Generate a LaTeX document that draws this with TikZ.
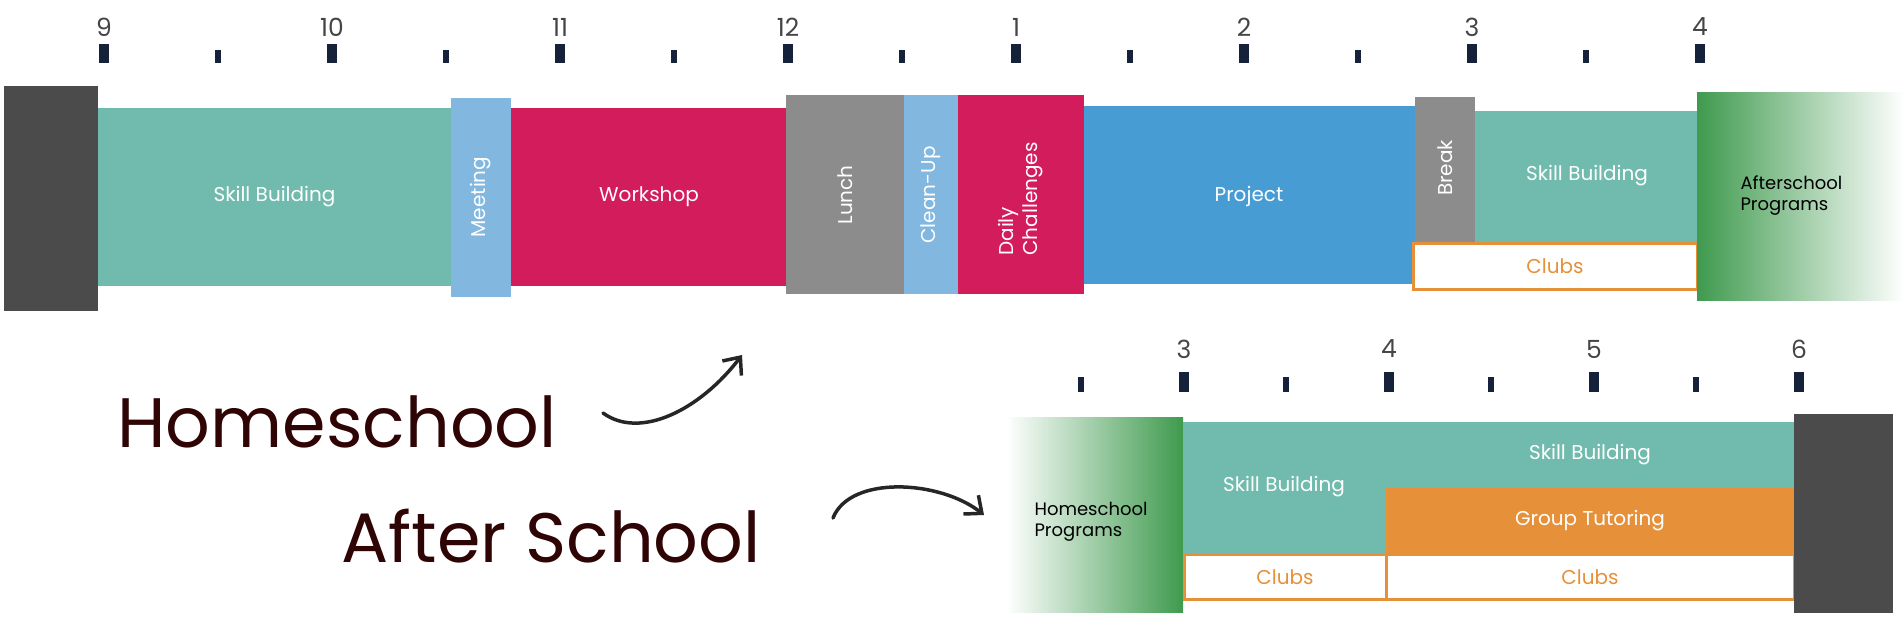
\documentclass[tikz,border=0pt]{standalone}
\usepackage{fontspec}
\setmainfont{Poppins}
\usetikzlibrary{arrows.meta}
\definecolor{dk}{HTML}{4B4B4B}
\definecolor{teal}{HTML}{70BBAD}
\definecolor{lblue}{HTML}{82B8E0}
\definecolor{crim}{HTML}{D31C5B}
\definecolor{gry}{HTML}{8C8C8C}
\definecolor{blu}{HTML}{479CD4}
\definecolor{org}{HTML}{E6913A}
\definecolor{grn}{HTML}{3F9A4E}
\definecolor{tick}{HTML}{15223A}
\definecolor{numc}{HTML}{454545}
\definecolor{maroon}{HTML}{2E0404}
\tikzset{
  lbl/.style={text=white,font=\fontsize{20}{24}\selectfont},
  rlbl/.style={lbl,rotate=90},
  clubs/.style={draw=org,line width=3pt,fill=white},
  clubtxt/.style={text=org,font=\fontsize{20}{24}\selectfont},
  numlbl/.style={text=numc,font=\fontsize{25}{28}\selectfont},
  big/.style={text=maroon,font=\fontsize{70}{80}\selectfont},
  arr/.style={line width=3.5pt,draw=black!85,line cap=round,-{Straight Barb[length=14pt,width=24pt,line width=3.5pt]}}
}
\begin{document}
\begin{tikzpicture}[x=1pt,y=-1pt]
\useasboundingbox (0,0) rectangle (1904,624);
% top ticks
\foreach \i/\t in {0/9,1/10,2/11,3/12,4/1,5/2,6/3,7/4}{
  \pgfmathsetmacro\xx{104+228*\i}
  \fill[tick] (\xx-5,44) rectangle (\xx+5,63);
  \node[numlbl] (tn\i) at (\xx,27) {\t};
}
\foreach \i in {0,...,6}{
  \pgfmathsetmacro\xx{218+228*\i}
  \fill[tick] (\xx-3,50) rectangle (\xx+3,63);
}
% top blocks
\fill[dk] (4,86) rectangle (98,311);
\fill[teal] (98,108) rectangle (451,286);
\node[lbl] (sb1) at (274.5,197) {Skill Building};
\fill[lblue] (451,98) rectangle (511,297);
\node[rlbl] (meet) at (481,197) {Meeting};
\fill[crim] (511,108) rectangle (787,286);
\node[lbl] (work) at (649,197) {Workshop};
\fill[gry] (786,95) rectangle (904,294);
\node[rlbl] (lunch) at (845,195) {Lunch};
\fill[lblue] (904,95) rectangle (958,294);
\node[rlbl] (clean) at (931,195) {Clean-Up};
\fill[crim] (958,95) rectangle (1084,294);
\node[rlbl,align=left] (daily) at (1021,199) {Daily\\Challenges};
\fill[blu] (1084,106) rectangle (1415,284);
\node[lbl] (proj) at (1249,196) {Project};
\fill[gry] (1415,97) rectangle (1475,242);
\node[rlbl] (brk) at (1445,168) {Break};
\fill[teal] (1475,111) rectangle (1697,242);
\node[lbl] (sb2) at (1587,176) {Skill Building};
\draw[clubs] (1413,243) rectangle (1697,289);
\node[clubtxt] (cl1) at (1555,266) {Clubs};
\shade[left color=grn,right color=white] (1697,92) rectangle (1904,300);
\node[align=left,text=black,font=\fontsize{18}{21}\selectfont,anchor=west] (asp) at (1737,196) {Afterschool\\Programs};
% bottom ticks
\foreach \i/\t in {0/3,1/4,2/5,3/6}{
  \pgfmathsetmacro\xx{1184+205*\i}
  \fill[tick] (\xx-5,372) rectangle (\xx+5,392);
  \node[numlbl] (bn\i) at (\xx,349) {\t};
}
\foreach \i in {0,...,3}{
  \pgfmathsetmacro\xx{1081+205*\i}
  \fill[tick] (\xx-3,377) rectangle (\xx+3,392);
}
% bottom blocks
\shade[left color=white,right color=grn] (1006,417) rectangle (1183,612);
\node[align=left,text=black,font=\fontsize{18}{21}\selectfont,anchor=west] (hsp) at (1031,522) {Homeschool\\Programs};
\fill[teal] (1183,422) rectangle (1386,553);
\node[lbl] (sb3) at (1284,487) {Skill Building};
\fill[teal] (1386,422) rectangle (1794,488);
\node[lbl] (sb4) at (1590,455) {Skill Building};
\fill[org] (1386,488) rectangle (1794,554);
\node[lbl] (gt) at (1590,521) {Group Tutoring};
\draw[clubs] (1184,554) rectangle (1386,599);
\node[clubtxt] (cl2) at (1285,577) {Clubs};
\draw[clubs] (1386,554) rectangle (1794,599);
\node[clubtxt] (cl3) at (1590,577) {Clubs};
\fill[dk] (1794,414) rectangle (1893,613);
% big labels
\node[big,anchor=base west] (hs) at (114,447) {Homeschool};
\node[big,anchor=base west] (as) at (338,562) {After School};
\coordinate (a1s) at (603,413);
\coordinate (a1e) at (742,355);
\coordinate (a2s) at (833,518);
\coordinate (a2e) at (984,515);
\draw[arr] (a1s) .. controls (640,440) and (700,410) .. (a1e);
\draw[arr] (a2s) .. controls (850,475) and (940,480) .. (a2e);
\end{tikzpicture}
\end{document}
